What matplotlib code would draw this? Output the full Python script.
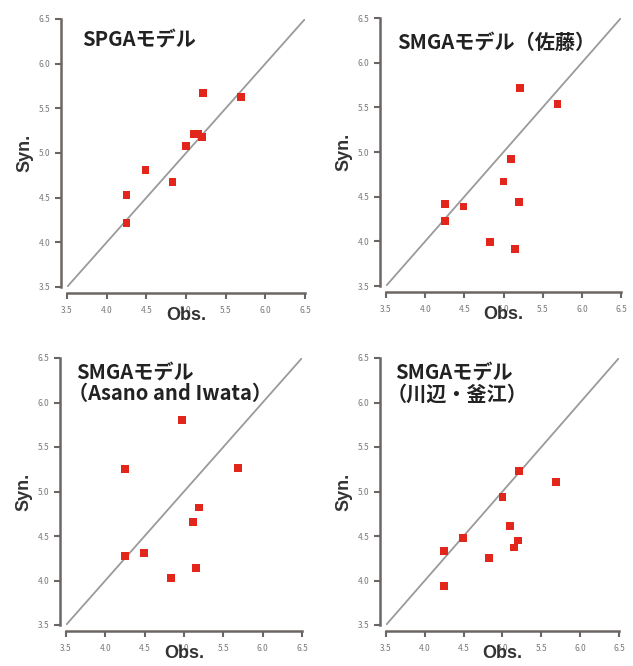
import matplotlib
matplotlib.use("Agg")
import matplotlib.pyplot as plt

plt.rcParams['font.family'] = ['Noto Sans CJK JP', 'DejaVu Sans']

# Observed values shared by most panels
obs = [4.25, 4.25, 4.49, 4.83, 5.00, 5.10, 5.15, 5.20, 5.21, 5.69]

syn_spga = [4.22, 4.53, 4.81, 4.68, 5.08, 5.21, 5.21, 5.18, 5.67, 5.63]
syn_sato = [4.23, 4.42, 4.39, 3.99, 4.67, 4.92, 3.91, 4.44, 5.72, 5.54]
obs_asano = [4.25, 4.25, 4.49, 4.83, 4.98, 5.11, 5.15, 5.19, 5.69]
syn_asano = [4.28, 5.25, 4.31, 4.03, 5.80, 4.66, 4.14, 4.82, 5.26]
syn_kawabe = [3.94, 4.33, 4.48, 4.25, 4.94, 4.61, 4.37, 4.45, 5.23, 5.11]

titles = [["SPGAモデル"], ["SMGAモデル（佐藤）"],
          ["SMGAモデル", "（Asano and Iwata）"], ["SMGAモデル", "（川辺・釜江）"]]
ticks = [3.5, 4.0, 4.5, 5.0, 5.5, 6.0, 6.5]
tick_labels = ["3.5", "4.0", "4.5", "5.0", "5.5", "6.0", "6.5"]

W, H = 633, 666
fig = plt.figure(figsize=(W / 100, H / 100), dpi=100)

# axes boxes in pixels: (left, right, top, bottom)
boxes = [(67, 305, 19, 287), (386, 621, 18, 286),
         (66, 302, 358, 625), (386, 619, 358, 625)]
panels = [(obs, syn_spga), (obs, syn_sato), (obs_asano, syn_asano), (obs, syn_kawabe)]
# title line anchors in pixels: list of (x, y) per line
title_pos = [[(82, 40)], [(397, 42)],
             [(76, 373), (68, 393)], [(395, 373), (387, 394)]]

spine_c = "#6b6664"
for (l, r, t, b), (xs, ys), lines, anchors in zip(boxes, panels, titles, title_pos):
    ax = fig.add_axes([l / W, 1 - b / H, (r - l) / W, (b - t) / H])
    ax.set_xlim(3.5, 6.5)
    ax.set_ylim(3.5, 6.5)
    ax.plot([3.5, 6.5], [3.5, 6.5], color="#9a9a9a", lw=1.3, zorder=1)
    ax.scatter(xs, ys, marker="s", s=32, color="#e2261b", edgecolors="none", zorder=3)
    for side in ("top", "right"):
        ax.spines[side].set_visible(False)
    for side in ("left", "bottom"):
        ax.spines[side].set_color(spine_c)
        ax.spines[side].set_linewidth(1.8)
        ax.spines[side].set_position(("outward", 4))
    ax.set_xticks(ticks)
    ax.set_xticklabels(tick_labels)
    ax.set_yticks(ticks)
    ax.set_yticklabels(tick_labels)
    ax.tick_params(direction="out", length=4, width=1.5, color=spine_c,
                   labelsize=6, labelcolor="#7a7a7a")
    ax.tick_params(axis="x", pad=6)
    ax.tick_params(axis="y", pad=4)
    ax.set_xlabel("Obs.", fontsize=13, fontweight="bold", color="#333333",
                  family="Liberation Sans", labelpad=-6)
    ax.set_ylabel("Syn.", fontsize=13, fontweight="bold", color="#333333",
                  family="Liberation Sans", labelpad=4)
    for text, (tx, ty) in zip(lines, anchors):
        fig.text(tx / W, 1 - ty / H, text, fontsize=14.5, color="#222222",
                 fontweight="bold", ha="left", va="center")

fig.savefig("out.png", dpi=100)
